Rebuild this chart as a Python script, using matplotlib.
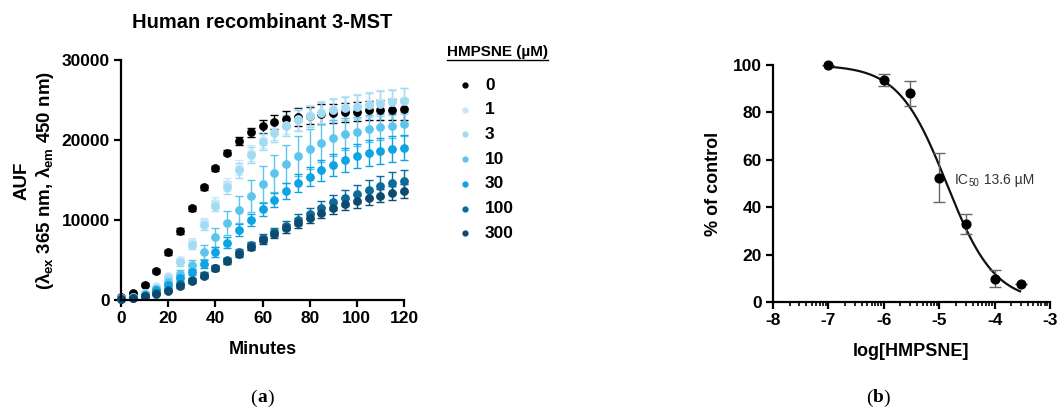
import numpy as np
import matplotlib
matplotlib.use("Agg")
import matplotlib.pyplot as plt
from matplotlib.lines import Line2D
from matplotlib.ticker import FixedLocator

plt.rcParams['font.family'] = ['Liberation Sans', 'DejaVu Sans']
plt.rcParams['font.weight'] = 'bold'
plt.rcParams['axes.unicode_minus'] = False
plt.rcParams['mathtext.fontset'] = 'custom'
plt.rcParams['mathtext.rm'] = 'Liberation Sans:bold'
plt.rcParams['mathtext.it'] = 'Liberation Sans:bold'
plt.rcParams['mathtext.bf'] = 'Liberation Sans:bold'

# ---- panel (a): kinetics ----
minutes = np.arange(0, 125, 5)
conc_labels = ['0', '1', '3', '10', '30', '100', '300']
colors = ['#000000', '#c8e8f7', '#a2dbf4', '#5cc5ee', '#0ea4e4', '#0b6c9c', '#0c4a70']

auf_0 = [400, 900, 1900, 3600, 5950, 8650, 11450, 14100, 16450, 18400, 19900, 20950, 21700,
         22250, 22600, 22850, 23050, 23250, 23350, 23450, 23550, 23700, 23750, 23800, 23850]
err_0 = [100, 150, 200, 250, 300, 350, 300, 300, 300, 300, 500, 600, 800,
         900, 1000, 1100, 1100, 1200, 1200, 1200, 1200, 1200, 1300, 1300, 1300]
auf_1 = [250, 400, 900, 1700, 3000, 5000, 7250, 9700, 12150, 14450, 16550, 18400, 19950,
         21050, 21900, 22600, 23100, 23500, 23850, 24100, 24300, 24500, 24700, 24850, 25000]
err_1 = [50, 100, 150, 200, 300, 400, 500, 600, 700, 800, 900, 1000, 1000,
         1100, 1200, 1300, 1300, 1400, 1400, 1400, 1500, 1500, 1500, 1500, 1500]
auf_3 = [200, 350, 800, 1500, 2700, 4700, 6900, 9400, 11800, 14100, 16200, 18100, 19700,
         20850, 21750, 22450, 22950, 23350, 23700, 23950, 24150, 24350, 24550, 24700, 24850]
err_3 = [50, 100, 150, 200, 300, 400, 500, 600, 700, 800, 900, 1000, 1000,
         1100, 1200, 1300, 1300, 1400, 1400, 1400, 1500, 1500, 1600, 1600, 1600]
auf_10 = [250, 350, 700, 1400, 2300, 3300, 4350, 6000, 7850, 9650, 11300, 12950, 14500,
          15850, 17000, 18000, 18900, 19650, 20250, 20700, 21050, 21400, 21650, 21800, 21950]
err_10 = [50, 100, 150, 200, 300, 400, 600, 900, 1200, 1500, 1700, 2000, 2200,
          2300, 2400, 2500, 2500, 2400, 2200, 2000, 1800, 1700, 1600, 1500, 1500]
auf_30 = [150, 300, 600, 1200, 1900, 2700, 3500, 4550, 6000, 7150, 8750, 10000, 11350,
          12500, 13600, 14650, 15400, 16200, 16850, 17500, 18000, 18350, 18650, 18900, 19050]
err_30 = [50, 100, 100, 150, 200, 300, 400, 500, 600, 700, 700, 700, 800,
          900, 1000, 1100, 1200, 1300, 1400, 1500, 1500, 1600, 1600, 1600, 1600]
auf_100 = [100, 250, 500, 900, 1300, 1950, 2500, 3150, 4050, 4950, 5950, 6850, 7700,
           8500, 9300, 10050, 10800, 11550, 12200, 12750, 13250, 13800, 14200, 14600, 14900]
err_100 = [30, 50, 80, 100, 150, 200, 250, 300, 300, 350, 400, 450, 500,
           550, 600, 650, 700, 800, 900, 1000, 1100, 1200, 1300, 1400, 1400]
auf_300 = [100, 200, 450, 800, 1150, 1750, 2350, 3050, 3950, 4850, 5750, 6650, 7450,
           8250, 8950, 9650, 10250, 10900, 11450, 11950, 12350, 12750, 13050, 13350, 13600]
err_300 = [30, 50, 80, 100, 150, 200, 250, 300, 300, 350, 400, 450, 450,
           500, 550, 600, 650, 700, 700, 750, 800, 850, 850, 900, 900]

series = [auf_0, auf_1, auf_3, auf_10, auf_30, auf_100, auf_300]
errors = [err_0, err_1, err_3, err_10, err_30, err_100, err_300]

# ---- panel (b): concentration response ----
log_conc = [-7, -6, -5.52, -5, -4.52, -4, -3.52]
pct_control = [100, 93.6, 88, 52.5, 32.8, 9.8, 7.6]
pct_err = [0, 2.6, 5.2, 10.2, 4.3, 3.5, 0]
top, bottom, log_ic50, hill = 100, 0, np.log10(13.6e-6), 1.0

W, H = 1059, 416
fig = plt.figure(figsize=(W / 100, H / 100), dpi=100)


def fx(px):
    return px / W


def fy(py):
    return 1 - py / H


def style_axes(ax):
    for s in ['top', 'right']:
        ax.spines[s].set_visible(False)
    for s in ['left', 'bottom']:
        ax.spines[s].set_linewidth(1.6)
    ax.tick_params(width=1.6, length=5, labelsize=12.5, pad=3)
    for lab in ax.get_xticklabels() + ax.get_yticklabels():
        lab.set_fontweight('bold')


# panel a
axa = fig.add_axes([fx(121), fy(300), (404 - 121) / W, (300 - 60) / H])
order = [1, 2, 3, 4, 5, 6, 0]
for i in order:
    axa.errorbar(minutes, series[i], yerr=errors[i], fmt='o', color=colors[i], ms=5.3,
                 elinewidth=1.0, capsize=3, capthick=1.0, clip_on=False, zorder=2 + i * 0.01)
axa.set_xlim(0, 120)
axa.set_ylim(0, 30000)
axa.set_xticks([0, 20, 40, 60, 80, 100, 120])
axa.set_yticks([0, 10000, 20000, 30000])
style_axes(axa)
axa.set_xlabel('Minutes', fontsize=13, fontweight='bold', labelpad=11)
fig.text(fx(262), fy(23), 'Human recombinant 3-MST', ha='center', va='center',
         fontsize=14.5, fontweight='bold')
fig.text(fx(22), fy(181), 'AUF', rotation=90, ha='center', va='center',
         fontsize=13.5, fontweight='bold')
fig.text(fx(45), fy(181), r'($\lambda_{\rm ex}$ 365 nm, $\lambda_{\rm em}$ 450 nm)', rotation=90,
         ha='center', va='center', fontsize=13.5, fontweight='bold')

# legend
title = fig.text(fx(447), fy(52), 'HMPSNE (µM)', ha='left', va='center',
                 fontsize=11, fontweight='bold')
for i, lab in enumerate(conc_labels):
    yy = 85 + 24.7 * i
    fig.add_artist(Line2D([fx(465)], [fy(yy)], marker='o', ms=3.5, color=colors[i],
                          ls='none', transform=fig.transFigure))
    fig.text(fx(485), fy(yy), lab, ha='left', va='center', fontsize=12.5, fontweight='bold')

# panel b
axb = fig.add_axes([fx(773), fy(302), (1050 - 773) / W, (302 - 65) / H])
xfit = np.linspace(-7, -3.54, 300)
yfit = bottom + (top - bottom) / (1 + 10 ** ((xfit - log_ic50) * hill))
axb.plot(xfit, yfit, color='#111111', lw=1.6, zorder=2)
axb.errorbar(log_conc, pct_control, yerr=pct_err, fmt='none', ecolor='#666666',
             elinewidth=1.0, capsize=4, capthick=1.0, zorder=3)
axb.plot(log_conc, pct_control, 'o', color='#000000', ms=6.3, zorder=4, clip_on=False)
axb.set_xlim(-8, -3)
axb.set_ylim(0, 100)
axb.set_xticks([-8, -7, -6, -5, -4, -3])
axb.set_yticks([0, 20, 40, 60, 80, 100])
minor = [d + np.log10(k) for d in range(-8, -3) for k in range(2, 10)]
axb.xaxis.set_minor_locator(FixedLocator(minor))
style_axes(axb)
axb.tick_params(axis='x', which='minor', length=3, width=1.2)
axb.set_xlabel('log[HMPSNE]', fontsize=13, fontweight='bold', labelpad=11)
axb.set_ylabel('% of control', fontsize=13, fontweight='bold', labelpad=8)

fig.canvas.draw()
renderer = fig.canvas.get_renderer()


def place_pieces(pieces, x0, yc, **kw):
    # pieces: (text, fontsize, weight, dy, family)
    x = x0
    for txt, fs, wt, dy, fam in pieces:
        t = fig.text(fx(x), fy(yc + dy), txt, ha='left', va='center', fontsize=fs,
                     fontweight=wt, family=fam, **kw)
        x += t.get_window_extent(renderer).width


place_pieces([('IC', 10, 'normal', 0, 'Liberation Sans'),
              ('50', 7, 'normal', 3, 'Liberation Sans'),
              (' 13.6 µM', 10, 'normal', 0, 'Liberation Sans')], 955, 180, color='#333333')

# panel labels
for cx, letter in [(262, 'a'), (878, 'b')]:
    parts = [('(', 'normal'), (letter, 'bold'), (')', 'normal')]
    tmp = [fig.text(0, 0, p, fontsize=14, fontweight=w, family='Liberation Serif') for p, w in parts]
    widths = [t.get_window_extent(renderer).width for t in tmp]
    for t in tmp:
        t.remove()
    x = cx - sum(widths) / 2
    for (p, w), wd in zip(parts, widths):
        fig.text(fx(x), fy(398), p, ha='left', va='center', fontsize=14, fontweight=w,
                 family='Liberation Serif')
        x += wd

# underline legend title
fig.canvas.draw()
bb = title.get_window_extent(renderer)
fig.add_artist(Line2D([bb.x0 / W, bb.x1 / W], [(bb.y0 - 1) / H] * 2, color='black',
                      lw=1.0, transform=fig.transFigure))

fig.savefig('out.png', dpi=100)
